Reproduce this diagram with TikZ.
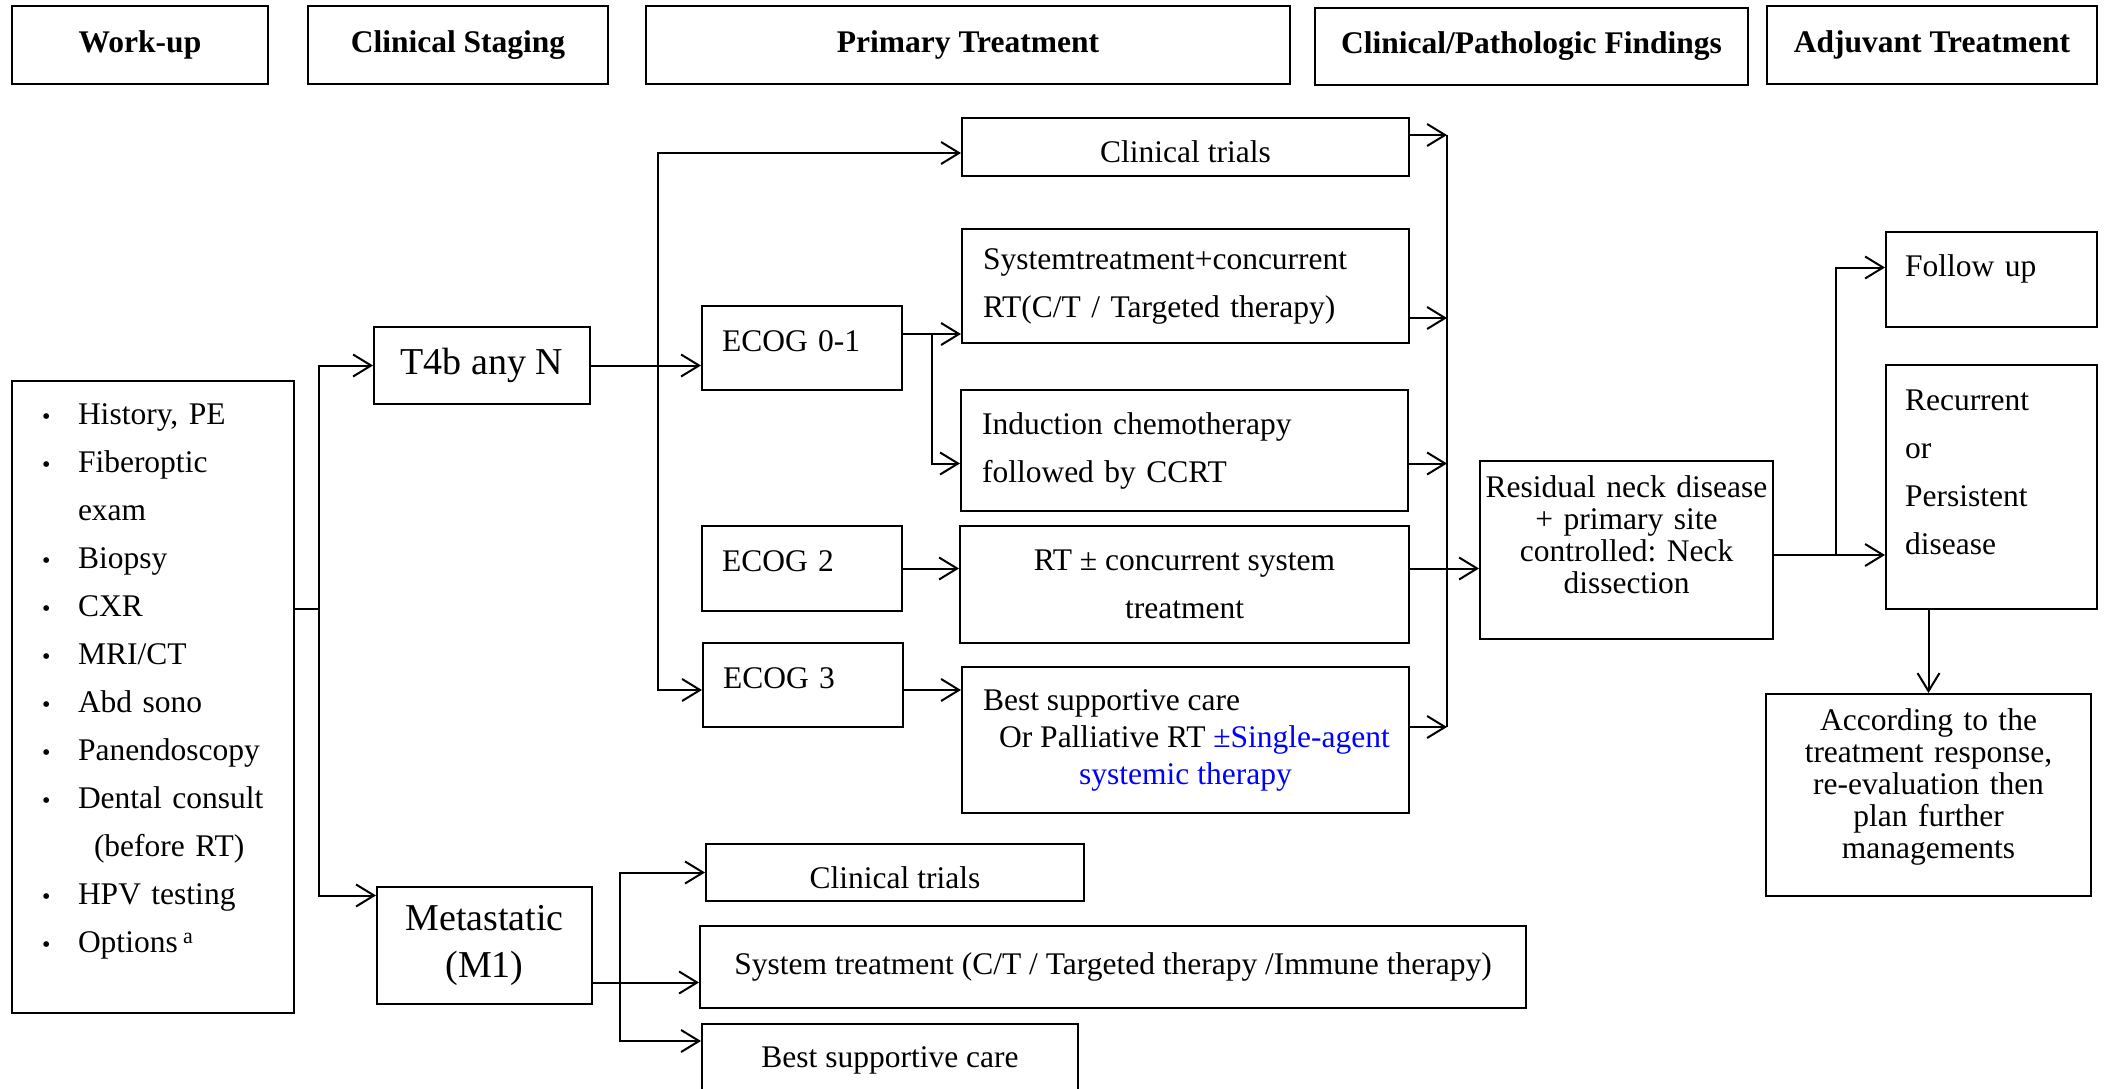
\documentclass[tikz,border=0pt]{standalone}
\usepackage{fontspec}
\setmainfont{Liberation Serif}
\usetikzlibrary{arrows.meta}

\newcommand{\itm}[1]{\makebox[36pt][l]{\fontsize{24}{24}\selectfont\textbullet}#1}

\begin{document}
\begin{tikzpicture}[x=1pt,y=-1pt,line width=2pt,
  >={Straight Barb[length=18pt,width=22pt]},
  box/.style={draw,anchor=north west,inner sep=0pt,font=\fontsize{31.5}{48}\selectfont},
  head/.style={box,font=\fontsize{31.5}{40}\selectfont\bfseries},
  big/.style={box,font=\fontsize{38}{47}\selectfont},
  tight/.style={box,align=center,inner xsep=4pt,font=\fontsize{31.5}{32}\selectfont},
  lbox/.style={box,text width=405pt,inner xsep=21pt,align=left},
  ebox/.style={box,text width=160pt,inner xsep=20pt,align=left,lift=-34pt},
  abox/.style={box,text width=173pt,inner xsep=19pt,align=left},
  lift/.style={execute at end node={\\[#1]\mbox{}}}]
\useasboundingbox (0,0) rectangle (2105,1089);

% Headings
\node[head,minimum width=256pt,minimum height=78pt] (hwork) at (11,5) {Work-up};
\node[head,minimum width=300pt,minimum height=78pt] (hstage) at (307,5) {Clinical Staging};
\node[head,minimum width=644pt,minimum height=78pt] (hprim) at (645,5) {Primary Treatment};
\node[head,minimum width=433pt,minimum height=77pt] (hfind) at (1314,7) {Clinical/Pathologic Findings};
\node[head,minimum width=330pt,minimum height=78pt] (hadj) at (1766,5) {Adjuvant Treatment};

% Work-up
\node[box,minimum width=282pt,minimum height=632pt,text width=222pt,inner xsep=30pt,align=left,lift=-11pt] (wu) at (11,380)
  {\itm{History, PE}\\ \itm{Fiberoptic}\\ \hspace*{36pt}exam\\ \itm{Biopsy}\\ \itm{CXR}\\ \itm{MRI/CT}\\
   \itm{Abd sono}\\ \itm{Panendoscopy}\\ \itm{Dental consult}\\ \hspace*{52pt}(before RT)\\
   \itm{HPV testing}\\ \itm{Options\,\textsuperscript{a}}};

% Staging
\node[big,minimum width=216pt,minimum height=77pt] (t4b) at (373,326) {T4b any N};
\node[big,minimum width=215pt,minimum height=117pt,align=center] (meta) at (376,886) {Metastatic\\(M1)};

% Primary treatment
\node[box,minimum width=447pt,minimum height=58pt,text height=31pt] (trials) at (961,117) {Clinical trials};
\node[lbox,minimum height=114pt] (sysrt) at (961,228) {Systemtreatment+concurrent\\RT(C/T / Targeted therapy)};
\node[lbox,minimum height=121pt] (induct) at (960,389) {Induction chemotherapy\\followed by CCRT};
\node[box,minimum width=449pt,minimum height=117pt,align=center] (rtsys) at (959,525) {RT ± concurrent system\\treatment};
\node[box,minimum width=447pt,minimum height=146pt,align=center,font=\fontsize{31.5}{37}\selectfont] (bsc) at (961,666)
  {\makebox[405pt][l]{Best supportive care}\\\hspace*{18pt}Or Palliative RT \textcolor{blue}{±Single-agent}\\\textcolor{blue}{systemic therapy}};
\node[ebox,minimum height=84pt] (ecoga) at (701,305) {ECOG 0-1};
\node[ebox,minimum height=85pt] (ecogb) at (701,525) {ECOG 2};
\node[ebox,minimum height=84pt] (ecogc) at (702,642) {ECOG 3};

\node[box,minimum width=378pt,minimum height=57pt,text height=33pt] (mtrials) at (705,843) {Clinical trials};
\node[box,minimum width=826pt,minimum height=82pt] (msys) at (699,925) {System treatment (C/T / Targeted therapy /Immune therapy)};
\node[box,minimum width=376pt,minimum height=72pt] (mbsc) at (701,1023) {Best supportive care};

% Findings
\node[tight,text width=285pt,minimum height=178pt,lift=-2pt] (resid) at (1479,460) {Residual neck disease\\+ primary site\\controlled:\ Neck\\dissection};

% Adjuvant
\node[abox,minimum height=95pt,lift=-21pt] (follow) at (1885,231) {Follow up};
\node[abox,minimum height=244pt,lift=-18pt] (recur) at (1885,364) {Recurrent\\or\\Persistent\\disease};
\node[tight,text width=317pt,minimum height=202pt,lift=-9pt] (plan) at (1765,693) {According to the\\treatment response,\\re-evaluation then\\plan further\\managements};

% Work-up to staging
\draw ([yshift=88pt]wu.east) -- ++(24,0) coordinate (wj);
\draw[->] (wj) |- (t4b.west);
\draw[->] (wj) |- ([yshift=50pt]meta.west);

% T4b
\draw[->] (t4b.east) -- (t4b.east -| ecoga.west);
\path (t4b.east) ++(67,0) coordinate (tj);
\draw[->] (tj) |- ([yshift=-6pt]trials.west);
\draw[->] (tj) |- ([yshift=-5pt]ecogc.west);

% ECOG
\draw[->] ([yshift=14pt]ecoga.east) -- ([yshift=14pt]ecoga.east -| sysrt.west);
\path ([yshift=14pt]ecoga.east) ++(29,0) coordinate (ej);
\draw[->] (ej) |- ([yshift=-13pt]induct.west);
\draw[->] (ecogb.east) -- (ecogb.east -| rtsys.west);
\draw[->] ([yshift=-5pt]ecogc.east) -- ([yshift=-5pt]ecogc.east -| bsc.west);

% Collector
\draw[->] ([yshift=12pt]trials.east) -- ++(37,0) coordinate (ca);
\draw[->] ([yshift=-32pt]sysrt.east) -- ++(37,0);
\draw[->] ([yshift=-13pt]induct.east) -- ++(38,0);
\draw[->] ([yshift=13pt]bsc.east) -- ++(37,0) coordinate (cb);
\draw (ca) -- (cb);
\draw[->] ([yshift=16pt]rtsys.east) -- ([yshift=16pt]rtsys.east -| resid.west);

% Findings to adjuvant
\draw[->] ([yshift=-5pt]resid.east) -- ([yshift=-5pt]resid.east -| recur.west);
\path ([yshift=-5pt]resid.east) ++(62,0) coordinate (rj);
\draw[->] (rj) |- ([yshift=12pt]follow.west);
\draw[->] (recur.south -| plan.north) -- (plan.north);

% M1
\draw[->] ([yshift=-37pt]meta.east) -- ([yshift=-37pt]meta.east -| msys.west);
\path ([yshift=-37pt]meta.east) ++(27,0) coordinate (mj);
\draw[->] (mj) |- (mtrials.west);
\draw[->] (mj) |- ([yshift=19pt]mbsc.west);
\end{tikzpicture}
\end{document}
